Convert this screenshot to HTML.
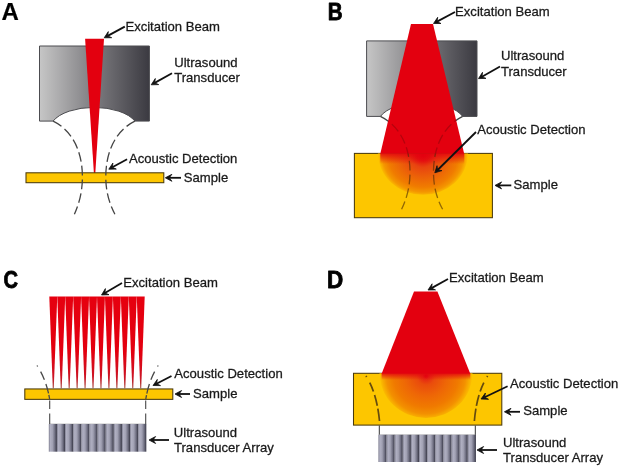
<!DOCTYPE html>
<html><head><meta charset="utf-8"><title>Photoacoustic imaging configurations</title>
<style>
html,body{margin:0;padding:0;background:#fff;}
body{width:620px;height:469px;overflow:hidden;}
svg{display:block;filter:blur(0.45px);}
svg text{font-family:"Liberation Sans",Arial,Helvetica,sans-serif;font-size:13.3px;fill:#1a1a1a;stroke:#1a1a1a;stroke-width:0.28px;}
svg text.lbl{font-weight:bold;font-size:24px;fill:#000;}
</style></head><body>
<svg width="620" height="469" viewBox="0 0 620 469">
<defs>
<linearGradient id="gt" x1="0" y1="0" x2="1" y2="0">
<stop offset="0" stop-color="#c6c6c6"/><stop offset="0.5" stop-color="#7d7c80"/><stop offset="1" stop-color="#3b3a41"/>
</linearGradient>
<linearGradient id="ge" x1="0" y1="0" x2="1" y2="0">
<stop offset="0" stop-color="#7c7c8e"/><stop offset="0.18" stop-color="#b0b0c2"/><stop offset="0.45" stop-color="#a2a2b4"/><stop offset="0.75" stop-color="#6e6e80"/><stop offset="0.93" stop-color="#454554"/><stop offset="1" stop-color="#4a4a5a"/>
</linearGradient>
<linearGradient id="gs" x1="0" y1="0" x2="0" y2="1">
<stop offset="0" stop-color="#e6000f"/><stop offset="0.6" stop-color="#e3000f"/><stop offset="0.88" stop-color="#cc1424"/><stop offset="1" stop-color="#a84a40"/>
</linearGradient>
<radialGradient id="gb" gradientUnits="userSpaceOnUse" cx="423" cy="155" r="46">
<stop offset="0" stop-color="#e3000f"/><stop offset="0.15" stop-color="#e41610"/><stop offset="0.3" stop-color="#e84410"/><stop offset="0.55" stop-color="#ec6208"/><stop offset="0.78" stop-color="#f07c00"/><stop offset="0.9" stop-color="#f49600"/><stop offset="0.97" stop-color="#fab600"/><stop offset="1" stop-color="#fdc600"/>
</radialGradient>
<radialGradient id="gd" gradientUnits="userSpaceOnUse" cx="426" cy="376" r="46.5">
<stop offset="0" stop-color="#e3000f"/><stop offset="0.07" stop-color="#e62812"/><stop offset="0.2" stop-color="#ea4c0c"/><stop offset="0.45" stop-color="#ee6606"/><stop offset="0.7" stop-color="#f07a00"/><stop offset="0.85" stop-color="#f39000"/><stop offset="0.95" stop-color="#f9b200"/><stop offset="1" stop-color="#fdc600"/>
</radialGradient>
<linearGradient id="gfade" x1="0" y1="0" x2="0" y2="1"><stop offset="0" stop-color="#e3000f" stop-opacity="0.9"/><stop offset="1" stop-color="#e3000f" stop-opacity="0"/></linearGradient>
<clipPath id="cb"><rect x="354.4" y="153.4" width="138" height="64.3"/></clipPath>
<clipPath id="cd"><rect x="353.5" y="373.3" width="148.3" height="51.8"/></clipPath>
<clipPath id="cbeam"><path d="M411 24H433L464.2 153.4H380.3Z"/></clipPath>
</defs>
<rect width="620" height="469" fill="#fff"/>

<g id="panelA">
<text transform="translate(1.6,20.45) scale(0.968,1)" class="lbl" style="font-size:24.8px;stroke:#000;stroke-width:0.2px">A</text>
<path d="M39.5 46H149.4V121.1H134.9A44 21.7 0 0 0 53.1 121.1H39.5Z" fill="url(#gt)" stroke="#4c4c50" stroke-width="1"/>
<path d="M85.1 38.8H104L95.1 176H94.1Z" fill="#e3000f"/>
<rect x="26" y="172.8" width="137.8" height="9.9" fill="#fdc600" stroke="#4a3a0c" stroke-width="1.05"/>
<path d="M53.1 121.2C72.9 130.7 82.4 152 82.4 177C82.4 192 79 204 74.4 214.2" stroke="#444" stroke-width="1.3" stroke-dasharray="9.8 4" fill="none"/>
<path d="M134.9 121.2C115.3 130.7 105.8 152 105.8 177C105.8 192 109.5 204 114.9 214.2" stroke="#444" stroke-width="1.3" stroke-dasharray="9.8 4" fill="none"/>
<line x1="124.8" y1="26.6" x2="107.7" y2="35.9" stroke="#111" stroke-width="1.8"/><path d="M104.2 37.8L108.3 31.6L107.7 35.9L111.7 37.7Z" fill="#111" stroke="#111" stroke-width="0.8" stroke-linejoin="round"/>
<line x1="172.0" y1="73.2" x2="154.7" y2="82.9" stroke="#111" stroke-width="1.8"/><path d="M151.2 84.8L155.3 78.5L154.7 82.9L158.7 84.6Z" fill="#111" stroke="#111" stroke-width="0.8" stroke-linejoin="round"/>
<line x1="127.1" y1="159.2" x2="112.3" y2="167.3" stroke="#111" stroke-width="1.8"/><path d="M108.8 169.2L112.9 163.0L112.3 167.3L116.3 169.1Z" fill="#111" stroke="#111" stroke-width="0.8" stroke-linejoin="round"/>
<line x1="181.0" y1="177.8" x2="169.3" y2="177.8" stroke="#111" stroke-width="1.8"/><path d="M165.3 177.8L171.9 174.3L169.3 177.8L171.9 181.3Z" fill="#111" stroke="#111" stroke-width="0.8" stroke-linejoin="round"/>
<text transform="translate(125.39999999999999,30.5) scale(0.985,1)" >Excitation Beam</text>
<text transform="translate(174.2,66.69999999999999) scale(0.985,1)" >Ultrasound</text>
<text transform="translate(174.2,82.39999999999999) scale(0.985,1)" >Transducer</text>
<text transform="translate(129.0,162.6) scale(0.985,1)" >Acoustic Detection</text>
<text transform="translate(183.79999999999998,181.79999999999998) scale(0.985,1)" >Sample</text>
</g>
<g id="panelB">
<text transform="translate(327.7,20.4) scale(0.88,1)" class="lbl" style="font-size:23.4px;stroke:#000;stroke-width:0.8px;stroke-linejoin:round">B</text>
<path d="M366.6 40.9H477V116.4H462.7A44 21.7 0 0 0 380.4 116.4H366.6Z" fill="url(#gt)" stroke="#4c4c50" stroke-width="1"/>
<path d="M380.4 116.4C400.3 126 410 147.3 410 172.3C410 187.3 406.4 199.3 401.6 209.3" stroke="#444" stroke-width="1.3" stroke-dasharray="9.8 4" fill="none"/>
<path d="M462.7 116.4C443 126 433.5 147.3 433.5 172.3C433.5 187.3 437.2 199.3 442.6 209.3" stroke="#444" stroke-width="1.3" stroke-dasharray="9.8 4" fill="none"/>
<rect x="354.4" y="153.4" width="138" height="64.3" fill="#fdc600" stroke="#4a3a0c" stroke-width="1.05"/>
<g clip-path="url(#cb)"><circle cx="423" cy="153.4" r="46" fill="url(#gb)" transform="translate(423,153.4) scale(0.98,0.9) translate(-423,-153.4)"/><rect x="380.3" y="153" width="84" height="11" fill="url(#gfade)"/></g>
<path d="M411 24H433L464.2 153.8H380.3Z" fill="#e3000f"/>
<g clip-path="url(#cbeam)" opacity="0.3"><path d="M380.4 116.4C400.3 126 410 147.3 410 172.3C410 187.3 406.4 199.3 401.6 209.3" stroke="#4a0a08" stroke-width="1.3" stroke-dasharray="9.8 4" fill="none"/><path d="M462.7 116.4C443 126 433.5 147.3 433.5 172.3C433.5 187.3 437.2 199.3 442.6 209.3" stroke="#4a0a08" stroke-width="1.3" stroke-dasharray="9.8 4" fill="none"/></g>
<g clip-path="url(#cb)" opacity="0.6"><path d="M380.4 116.4C400.3 126 410 147.3 410 172.3C410 187.3 406.4 199.3 401.6 209.3" stroke="#4a2a08" stroke-width="1.3" stroke-dasharray="9.8 4" fill="none"/><path d="M462.7 116.4C443 126 433.5 147.3 433.5 172.3C433.5 187.3 437.2 199.3 442.6 209.3" stroke="#4a2a08" stroke-width="1.3" stroke-dasharray="9.8 4" fill="none"/></g>
<line x1="455.0" y1="12.0" x2="437.0" y2="21.6" stroke="#111" stroke-width="1.8"/><path d="M433.5 23.5L437.7 17.3L437.0 21.6L441.0 23.5Z" fill="#111" stroke="#111" stroke-width="0.8" stroke-linejoin="round"/>
<line x1="500.0" y1="66.5" x2="482.0" y2="76.7" stroke="#111" stroke-width="1.8"/><path d="M478.5 78.6L482.5 72.3L482.0 76.7L486.0 78.4Z" fill="#111" stroke="#111" stroke-width="0.8" stroke-linejoin="round"/>
<line x1="476.0" y1="132.0" x2="437.6" y2="170.0" stroke="#111" stroke-width="1.8"/><path d="M434.8 172.8L437.0 165.7L437.6 170.0L442.0 170.6Z" fill="#111" stroke="#111" stroke-width="0.8" stroke-linejoin="round"/>
<line x1="511.3" y1="185.4" x2="499.0" y2="185.4" stroke="#111" stroke-width="1.8"/><path d="M495.0 185.4L501.6 181.9L499.0 185.4L501.6 188.9Z" fill="#111" stroke="#111" stroke-width="0.8" stroke-linejoin="round"/>
<text transform="translate(455.1,16.1) scale(0.985,1)" >Excitation Beam</text>
<text transform="translate(501.0,60.2) scale(0.985,1)" >Ultrasound</text>
<text transform="translate(501.0,75.5) scale(0.985,1)" >Transducer</text>
<text transform="translate(477.20000000000005,134.0) scale(0.985,1)" >Acoustic Detection</text>
<text transform="translate(513.6,189.4) scale(0.985,1)" >Sample</text>
</g>
<g id="panelC">
<text transform="translate(3.6,287.6) scale(0.86,1)" class="lbl" style="font-size:23.4px;stroke:#000;stroke-width:0.8px;stroke-linejoin:round">C</text>
<path d="M49.30 296.5H57.25L53.77 388.3H52.77Z" fill="url(#gs)"/>
<path d="M57.25 296.5H65.20L61.73 388.3H60.73Z" fill="url(#gs)"/>
<path d="M65.20 296.5H73.15L69.67 388.3H68.67Z" fill="url(#gs)"/>
<path d="M73.15 296.5H81.10L77.62 388.3H76.62Z" fill="url(#gs)"/>
<path d="M81.10 296.5H89.05L85.57 388.3H84.57Z" fill="url(#gs)"/>
<path d="M89.05 296.5H97.00L93.53 388.3H92.53Z" fill="url(#gs)"/>
<path d="M97.00 296.5H104.95L101.47 388.3H100.47Z" fill="url(#gs)"/>
<path d="M104.95 296.5H112.90L109.42 388.3H108.42Z" fill="url(#gs)"/>
<path d="M112.90 296.5H120.85L117.38 388.3H116.38Z" fill="url(#gs)"/>
<path d="M120.85 296.5H128.80L125.32 388.3H124.32Z" fill="url(#gs)"/>
<path d="M128.80 296.5H136.75L133.28 388.3H132.28Z" fill="url(#gs)"/>
<path d="M136.75 296.5H144.70L141.22 388.3H140.22Z" fill="url(#gs)"/>
<rect x="24.8" y="388.95" width="148" height="10.4" fill="#fdc600" stroke="#4a3a0c" stroke-width="1.05"/>
<path d="M49.3 424H146.2" stroke="#999" stroke-width="0.6"/>
<rect x="48.80" y="424" width="8.18" height="27.7" fill="url(#ge)"/><rect x="56.92" y="424" width="8.18" height="27.7" fill="url(#ge)"/><rect x="65.05" y="424" width="8.18" height="27.7" fill="url(#ge)"/><rect x="73.18" y="424" width="8.18" height="27.7" fill="url(#ge)"/><rect x="81.30" y="424" width="8.18" height="27.7" fill="url(#ge)"/><rect x="89.43" y="424" width="8.18" height="27.7" fill="url(#ge)"/><rect x="97.55" y="424" width="8.18" height="27.7" fill="url(#ge)"/><rect x="105.68" y="424" width="8.18" height="27.7" fill="url(#ge)"/><rect x="113.80" y="424" width="8.18" height="27.7" fill="url(#ge)"/><rect x="121.93" y="424" width="8.18" height="27.7" fill="url(#ge)"/><rect x="130.05" y="424" width="8.18" height="27.7" fill="url(#ge)"/><rect x="138.18" y="424" width="8.18" height="27.7" fill="url(#ge)"/>
<path d="M37 365.5Q46.5 380 49.6 399" stroke="#484848" stroke-width="1.3" stroke-dasharray="1.2 6 8.9 4.5 9.9 1.5 4 100" fill="none"/><path d="M49.7 400.5V409M49.7 413.5V424" stroke="#484848" stroke-width="1.1" fill="none"/>
<path d="M158.2 365.5Q148.8 380 145.8 399" stroke="#484848" stroke-width="1.3" stroke-dasharray="1.2 6 8.9 4.5 9.9 1.5 4 100" fill="none"/><path d="M145.7 400.5V409M145.7 413.5V424" stroke="#484848" stroke-width="1.1" fill="none"/>
<line x1="122.0" y1="283.0" x2="104.9" y2="293.0" stroke="#111" stroke-width="1.8"/><path d="M101.5 295.0L105.4 288.6L104.9 293.0L109.0 294.7Z" fill="#111" stroke="#111" stroke-width="0.8" stroke-linejoin="round"/>
<line x1="171.5" y1="376.0" x2="156.5" y2="383.7" stroke="#111" stroke-width="1.8"/><path d="M153.0 385.5L157.3 379.4L156.5 383.7L160.5 385.6Z" fill="#111" stroke="#111" stroke-width="0.8" stroke-linejoin="round"/>
<line x1="190.0" y1="394.0" x2="179.0" y2="394.0" stroke="#111" stroke-width="1.8"/><path d="M175.0 394.0L181.6 390.5L179.0 394.0L181.6 397.5Z" fill="#111" stroke="#111" stroke-width="0.8" stroke-linejoin="round"/>
<line x1="169.0" y1="440.0" x2="153.0" y2="440.0" stroke="#111" stroke-width="1.8"/><path d="M149.0 440.0L155.6 436.5L153.0 440.0L155.6 443.5Z" fill="#111" stroke="#111" stroke-width="0.8" stroke-linejoin="round"/>
<text transform="translate(123.3,287.1) scale(0.985,1)" >Excitation Beam</text>
<text transform="translate(174.29999999999998,378.1) scale(0.985,1)" >Acoustic Detection</text>
<text transform="translate(193.1,398.1) scale(0.985,1)" >Sample</text>
<text transform="translate(173.79999999999998,437.0) scale(0.985,1)" >Ultrasound</text>
<text transform="translate(174.0,452.20000000000005) scale(0.985,1)" >Transducer Array</text>
</g>
<g id="panelD">
<text transform="translate(326.9,287.6) scale(0.96,1)" class="lbl" style="font-size:23.4px;stroke:#000;stroke-width:0.8px;stroke-linejoin:round">D</text>
<rect x="353.5" y="373.3" width="148.3" height="51.8" fill="#fdc600" stroke="#4a3a0c" stroke-width="1.05"/>
<g clip-path="url(#cd)"><circle cx="426" cy="373.3" r="46.5" fill="url(#gd)" transform="translate(426,373.3) scale(1,0.96) translate(-426,-373.3)"/><rect x="381.6" y="373" width="88.7" height="7" fill="url(#gfade)"/></g>
<path d="M414 291.6H437.4L470.3 373.7H381.6Z" fill="#e3000f"/>
<path d="M379.3 425.5V435M475.3 425.5V435" stroke="#333" stroke-width="1" fill="none"/>
<path d="M379 434.8H475.5" stroke="#999" stroke-width="0.6"/>
<rect x="378.40" y="434.8" width="8.18" height="27.2" fill="url(#ge)"/><rect x="386.52" y="434.8" width="8.18" height="27.2" fill="url(#ge)"/><rect x="394.65" y="434.8" width="8.18" height="27.2" fill="url(#ge)"/><rect x="402.77" y="434.8" width="8.18" height="27.2" fill="url(#ge)"/><rect x="410.90" y="434.8" width="8.18" height="27.2" fill="url(#ge)"/><rect x="419.02" y="434.8" width="8.18" height="27.2" fill="url(#ge)"/><rect x="427.15" y="434.8" width="8.18" height="27.2" fill="url(#ge)"/><rect x="435.27" y="434.8" width="8.18" height="27.2" fill="url(#ge)"/><rect x="443.40" y="434.8" width="8.18" height="27.2" fill="url(#ge)"/><rect x="451.52" y="434.8" width="8.18" height="27.2" fill="url(#ge)"/><rect x="459.65" y="434.8" width="8.18" height="27.2" fill="url(#ge)"/><rect x="467.77" y="434.8" width="8.18" height="27.2" fill="url(#ge)"/>
<path d="M366 376Q377 393 379.6 422" stroke="#4a3510" opacity="0.85" stroke-width="1.7" stroke-dasharray="1.2 6.5 9.6 3.6 11.2 2.8 12.5 100" fill="none"/>
<path d="M487.6 376Q476.5 393 474.3 422" stroke="#4a3510" opacity="0.85" stroke-width="1.7" stroke-dasharray="1.2 6.5 9.6 3.6 11.2 2.8 12.5 100" fill="none"/>
<line x1="448.0" y1="279.0" x2="431.5" y2="288.1" stroke="#111" stroke-width="1.8"/><path d="M428.0 290.0L432.1 283.8L431.5 288.1L435.5 289.9Z" fill="#111" stroke="#111" stroke-width="0.8" stroke-linejoin="round"/>
<line x1="507.6" y1="386.3" x2="484.6" y2="397.3" stroke="#111" stroke-width="1.8"/><path d="M481.0 399.0L485.4 393.0L484.6 397.3L488.5 399.3Z" fill="#111" stroke="#111" stroke-width="0.8" stroke-linejoin="round"/>
<line x1="520.0" y1="411.8" x2="508.4" y2="411.8" stroke="#111" stroke-width="1.8"/><path d="M504.4 411.8L511.0 408.3L508.4 411.8L511.0 415.3Z" fill="#111" stroke="#111" stroke-width="0.8" stroke-linejoin="round"/>
<line x1="497.0" y1="450.0" x2="481.0" y2="450.0" stroke="#111" stroke-width="1.8"/><path d="M477.0 450.0L483.6 446.5L481.0 450.0L483.6 453.5Z" fill="#111" stroke="#111" stroke-width="0.8" stroke-linejoin="round"/>
<text transform="translate(449.1,282.40000000000003) scale(0.985,1)" >Excitation Beam</text>
<text transform="translate(509.90000000000003,388.1) scale(0.985,1)" >Acoustic Detection</text>
<text transform="translate(523.2,414.90000000000003) scale(0.985,1)" >Sample</text>
<text transform="translate(503.0,447.1) scale(0.985,1)" >Ultrasound</text>
<text transform="translate(503.1,462.20000000000005) scale(0.985,1)" >Transducer Array</text>
</g>
</svg>
</body></html>
